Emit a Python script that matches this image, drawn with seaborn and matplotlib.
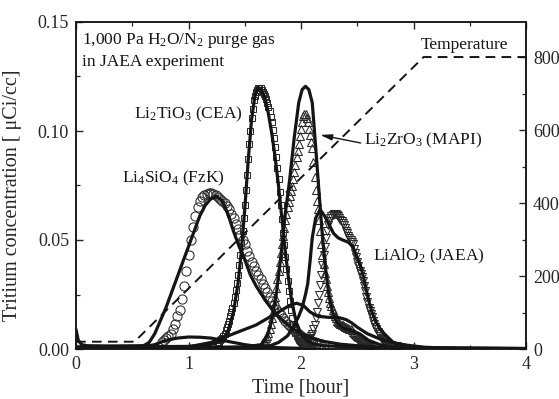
import numpy as np
import pandas as pd
import matplotlib
matplotlib.use("Agg")
import matplotlib.pyplot as plt
import seaborn as sns
from matplotlib.ticker import MultipleLocator

# ---------------- data ----------------
# measured points: first time (hour), sampling step (hour), concentration (uCi/cc)
sio_start, sio_step = 0.76, 0.02          # Li4SiO4 (FzK), circles
sio_vals = [0.0032, 0.004, 0.005, 0.0058, 0.007, 0.009, 0.0115, 0.015, 0.018, 0.023,
            0.029, 0.036, 0.043, 0.050, 0.056, 0.061, 0.065, 0.068, 0.0695, 0.0705,
            0.0712, 0.0715, 0.0715, 0.0712, 0.0705, 0.0695, 0.069, 0.068, 0.067, 0.0655,
            0.064, 0.062, 0.060, 0.0575, 0.055, 0.0525, 0.050, 0.048, 0.045, 0.0425,
            0.040, 0.038, 0.036, 0.034, 0.032, 0.030, 0.028, 0.026, 0.024, 0.022,
            0.020, 0.0185, 0.017, 0.0155, 0.014, 0.0128, 0.0115, 0.0105, 0.0095, 0.0085,
            0.0075, 0.0067, 0.006, 0.0054, 0.0048, 0.0043, 0.0038, 0.0034, 0.003, 0.0027,
            0.0024, 0.0021, 0.0018]

tio_start, tio_step = 1.25, 0.01          # Li2TiO3 (CEA), squares
tio_vals = [0.0025, 0.003, 0.0033, 0.004, 0.0045, 0.005, 0.006, 0.007, 0.0085, 0.010,
            0.0115, 0.013, 0.015, 0.017, 0.019, 0.021, 0.024, 0.027, 0.0305, 0.034,
            0.0385, 0.043, 0.0485, 0.054, 0.060, 0.066, 0.073, 0.080, 0.087, 0.094,
            0.100, 0.106, 0.110, 0.114, 0.116, 0.118, 0.119, 0.1195, 0.1198, 0.1195,
            0.119, 0.118, 0.117, 0.116, 0.1145, 0.113, 0.111, 0.109, 0.1065, 0.104,
            0.1005, 0.097, 0.0925, 0.088, 0.083, 0.078, 0.072, 0.066, 0.0595, 0.053,
            0.0475, 0.042, 0.0365, 0.031, 0.0265, 0.022, 0.018, 0.014, 0.0115, 0.009,
            0.0075, 0.006, 0.005, 0.004, 0.0035, 0.003, 0.0025, 0.002, 0.0018, 0.0015,
            0.0012, 0.001, 0.0009, 0.0008, 0.0007, 0.0006]

zro_start, zro_step = 1.65, 0.01          # Li2ZrO3 (MAPI), up triangles
zro_vals = [0.0025, 0.003, 0.0035, 0.004, 0.005, 0.006, 0.0075, 0.009, 0.0115, 0.014,
            0.017, 0.020, 0.024, 0.028, 0.032, 0.036, 0.040, 0.044, 0.048, 0.052,
            0.0555, 0.059, 0.062, 0.065, 0.0675, 0.070, 0.0725, 0.075, 0.078, 0.081,
            0.0845, 0.088, 0.091, 0.094, 0.0975, 0.101, 0.104, 0.107, 0.108, 0.108,
            0.106, 0.104, 0.101, 0.098, 0.095, 0.092, 0.086, 0.079, 0.073, 0.068,
            0.064, 0.059, 0.054, 0.048, 0.043, 0.039, 0.035, 0.032, 0.029, 0.026,
            0.0235, 0.021, 0.0195, 0.018, 0.0165, 0.015, 0.014, 0.013, 0.0125, 0.012,
            0.0115, 0.011, 0.0108, 0.0105, 0.0102, 0.010, 0.0098, 0.0095, 0.0092, 0.009,
            0.0085, 0.008, 0.0075, 0.007, 0.0065, 0.006, 0.0055, 0.005, 0.0045, 0.004,
            0.0038, 0.0035, 0.0032, 0.003, 0.0028, 0.0025, 0.0022, 0.002, 0.0018, 0.0015]

alo_start, alo_step = 2.00, 0.01          # LiAlO2 (JAEA), down triangles
alo_vals = [0.0025, 0.0027, 0.003, 0.0032, 0.0035, 0.0038, 0.004, 0.0045, 0.005, 0.006,
            0.007, 0.009, 0.011, 0.014, 0.017, 0.021, 0.025, 0.0295, 0.034, 0.0385,
            0.043, 0.047, 0.051, 0.054, 0.057, 0.0585, 0.060, 0.061, 0.0615, 0.062,
            0.062, 0.062, 0.0615, 0.061, 0.060, 0.059, 0.0585, 0.058, 0.057, 0.0555,
            0.054, 0.053, 0.052, 0.051, 0.050, 0.049, 0.048, 0.046, 0.044, 0.042,
            0.040, 0.038, 0.036, 0.0345, 0.033, 0.031, 0.029, 0.0265, 0.024, 0.0215,
            0.019, 0.0175, 0.016, 0.0145, 0.013, 0.0115, 0.010, 0.009, 0.008, 0.007,
            0.006, 0.0052, 0.0045, 0.004, 0.0035, 0.0032, 0.0028, 0.0024, 0.002, 0.0019,
            0.0018, 0.0016, 0.0015, 0.0014, 0.0013, 0.0012, 0.001, 0.001, 0.0009, 0.0008]

# fitted curves (time in hour, concentration in uCi/cc)
fit_sio_t = [0, 0.02, 0.05, 0.1, 0.3, 0.6, 0.65, 0.7, 0.75, 0.8, 0.85, 0.9, 0.95, 1.0, 1.05,
             1.1, 1.15, 1.2, 1.25, 1.3, 1.35, 1.4, 1.45, 1.5, 1.55, 1.6, 1.68, 1.76, 1.84,
             1.92, 2.0, 2.1, 2.2, 2.35, 2.5, 2.7, 3.0, 3.5, 4.0]
fit_sio_c = [0.009, 0.004, 0.002, 0.0015, 0.0014, 0.0015, 0.003, 0.007, 0.013, 0.019, 0.026,
             0.033, 0.040, 0.047, 0.054, 0.061, 0.066, 0.069, 0.070, 0.068, 0.062, 0.054,
             0.047, 0.041, 0.034, 0.029, 0.0225, 0.017, 0.013, 0.0095, 0.007, 0.005,
             0.0035, 0.0022, 0.0015, 0.0009, 0.0005, 0.0003, 0.0002]

fit_tio_t = [0, 0.5, 1.0, 1.2, 1.3, 1.35, 1.4, 1.44, 1.47, 1.50, 1.53, 1.56, 1.59, 1.62, 1.65,
             1.68, 1.71, 1.74, 1.77, 1.80, 1.83, 1.86, 1.89, 1.92, 1.96, 2.0, 2.05, 2.1,
             2.2, 2.5, 3.0, 4.0]
fit_tio_c = [0.001, 0.001, 0.0012, 0.002, 0.004, 0.008, 0.017, 0.030, 0.045, 0.064, 0.086,
             0.105, 0.116, 0.120, 0.119, 0.115, 0.108, 0.099, 0.088, 0.075, 0.060, 0.045,
             0.032, 0.021, 0.012, 0.007, 0.004, 0.0025, 0.0015, 0.0008, 0.0004, 0.0002]

fit_broad_t = [0.9, 1.0, 1.1, 1.2, 1.3, 1.4, 1.5, 1.6, 1.7, 1.8, 1.9, 1.96, 2.02, 2.08, 2.15,
               2.25, 2.33, 2.40, 2.45, 2.50, 2.59, 2.73, 2.9, 3.1, 3.4]
fit_broad_c = [0.0, 0.001, 0.002, 0.003, 0.005, 0.007, 0.009, 0.011, 0.014, 0.017, 0.020,
               0.021, 0.020, 0.017, 0.015, 0.0145, 0.0145, 0.0135, 0.012, 0.010, 0.007,
               0.004, 0.002, 0.0008, 0.0002]

fit_zro_t = [0, 1.0, 1.5, 1.65, 1.70, 1.74, 1.78, 1.82, 1.86, 1.90, 1.94, 1.98, 2.01, 2.04,
             2.07, 2.10, 2.13, 2.16, 2.19, 2.22, 2.25, 2.28, 2.32, 2.38, 2.45, 2.52, 2.6,
             2.7, 2.8, 3.0, 4.0]
fit_zro_c = [0.0005, 0.0006, 0.001, 0.002, 0.006, 0.013, 0.025, 0.042, 0.062, 0.078, 0.097,
             0.113, 0.119, 0.1205, 0.119, 0.113, 0.093, 0.072, 0.052, 0.036, 0.024, 0.017,
             0.012, 0.0095, 0.0085, 0.007, 0.004, 0.002, 0.001, 0.0005, 0.0002]

fit_alo_t = [0, 1.5, 1.7, 1.8, 1.88, 1.94, 1.98, 2.01, 2.04, 2.06, 2.08, 2.10, 2.13, 2.17,
             2.21, 2.25, 2.29, 2.33, 2.37, 2.42, 2.46, 2.50, 2.53, 2.56, 2.60, 2.63, 2.66,
             2.70, 2.74, 2.82, 2.9, 3.0, 3.2, 4.0]
fit_alo_c = [0.0003, 0.0005, 0.001, 0.003, 0.006, 0.011, 0.015, 0.019, 0.025, 0.030, 0.040,
             0.051, 0.060, 0.064, 0.061, 0.057, 0.053, 0.051, 0.050, 0.049, 0.047, 0.042,
             0.038, 0.032, 0.0225, 0.017, 0.013, 0.0095, 0.007, 0.003, 0.0015, 0.0008,
             0.0004, 0.0002]

fit_hump_t = [0.55, 0.65, 0.70, 0.75, 0.8, 0.9, 1.0, 1.1, 1.2, 1.3, 1.4, 1.5, 1.6, 1.8, 2.0]
fit_hump_c = [0.0012, 0.0015, 0.002, 0.003, 0.004, 0.005, 0.0055, 0.0054, 0.005, 0.004,
              0.003, 0.002, 0.0013, 0.0006, 0.0003]

# temperature program (deg C)
temp_t = [0.0, 0.52, 3.09, 4.0]
temp_T = [20, 20, 800, 800]

x_ticks = [0, 1, 2, 3, 4]
y_ticks = [0.00, 0.05, 0.10, 0.15]
y_ticklabels = ["0.00", "0.05", "0.10", "0.15"]
r_ticks = [0, 200, 400, 600, 800]

# ---------------- style ----------------
sns.set_style("ticks")
plt.rcParams["font.family"] = ["Liberation Serif", "DejaVu Serif"]
plt.rcParams["mathtext.fontset"] = "custom"
plt.rcParams["mathtext.rm"] = "Liberation Serif"
plt.rcParams["mathtext.it"] = "Liberation Serif:italic"
plt.rcParams["axes.linewidth"] = 1.1

fig = plt.figure(figsize=(5.59, 3.99), dpi=100)
ax = fig.add_axes([76 / 559, 1 - 349 / 399, 450 / 559, 327 / 399])
ax2 = ax.twinx()

ink = "#151515"

def grid(start, step, vals):
    return start + step * np.arange(len(vals))

marker_sets = [
    (grid(sio_start, sio_step, sio_vals), sio_vals, "o", 6.6),
    (grid(tio_start, tio_step, tio_vals), tio_vals, "s", 4.6),
    (grid(zro_start, zro_step, zro_vals), zro_vals, "^", 6.2),
    (grid(alo_start, alo_step, alo_vals), alo_vals, "v", 6.2),
]
for tt, vv, mk, ms in marker_sets:
    df = pd.DataFrame({"t": tt, "c": vv})
    sns.lineplot(data=df, x="t", y="c", ax=ax, marker=mk, linestyle="", ms=ms,
                 mfc="none", mec="#2a2a2a", mew=0.75, errorbar=None, estimator=None)

for tt, cc in [(fit_hump_t, fit_hump_c), (fit_broad_t, fit_broad_c),
               (fit_sio_t, fit_sio_c), (fit_tio_t, fit_tio_c),
               (fit_zro_t, fit_zro_c), (fit_alo_t, fit_alo_c)]:
    df = pd.DataFrame({"t": tt, "c": cc})
    sns.lineplot(data=df, x="t", y="c", ax=ax, color=ink, lw=2.3, errorbar=None,
                 estimator=None, sort=False)

dft = pd.DataFrame({"t": temp_t, "T": temp_T})
sns.lineplot(data=dft, x="t", y="T", ax=ax2, color=ink, lw=1.4,
             linestyle=(0, (5, 3.2)), errorbar=None, estimator=None, sort=False)

# axes limits & ticks
ax.set_xlim(0, 4)
ax.set_ylim(0, 0.15)
ax2.set_ylim(0, 896)
ax.set_xticks(x_ticks)
ax.set_xticklabels([str(v) for v in x_ticks])
ax.xaxis.set_minor_locator(MultipleLocator(0.5))
ax.set_yticks(y_ticks)
ax.set_yticklabels(y_ticklabels)
ax.yaxis.set_minor_locator(MultipleLocator(0.025))
ax2.set_yticks(r_ticks)
ax2.yaxis.set_minor_locator(MultipleLocator(100))

ax.tick_params(axis="both", which="major", direction="in", length=5, width=1.0,
               labelsize=13, top=True, pad=5)
ax.tick_params(axis="both", which="minor", direction="in", length=3, width=0.9, top=True)
ax.tick_params(axis="x", which="both", top=True, labeltop=False)
ax2.tick_params(axis="y", which="major", direction="in", length=5, width=1.0,
                labelsize=13, pad=5)
ax2.tick_params(axis="y", which="minor", direction="in", length=3, width=0.9)

ax.set_xlabel("Time [hour]", fontsize=14.5, labelpad=4)
ax.set_ylabel("Tritium concentration [ \u03bcCi/cc]", fontsize=14.5)
ax.yaxis.set_label_coords(-0.12, 0.47)
ax2.set_ylabel("")
for a in (ax, ax2):
    for s in a.spines.values():
        s.set_linewidth(1.1)
        s.set_color(ink)

# annotations
fs = 12.5
ax.text(0.053, 0.1417, "1,000 Pa H$_2$O/N$_2$ purge gas", fontsize=fs, ha="left", va="center", color=ink)
ax.text(0.053, 0.1315, "in JAEA experiment", fontsize=fs, ha="left", va="center", color=ink)
ax.text(3.063, 0.1394, "Temperature", fontsize=fs, ha="left", va="center", color=ink)
ax.text(1.478, 0.1075, "Li$_2$TiO$_3$ (CEA)", fontsize=fs, ha="right", va="center", color=ink)
ax.text(0.405, 0.0784, "Li$_4$SiO$_4$ (FzK)", fontsize=fs, ha="left", va="center", color=ink)
ax.text(2.556, 0.0955, "Li$_2$ZrO$_3$ (MAPI)", fontsize=fs, ha="left", va="center", color=ink)
ax.text(2.636, 0.0425, "LiAlO$_2$ (JAEA)", fontsize=fs, ha="left", va="center", color=ink)
ax.annotate("", xy=(2.17, 0.0982), xytext=(2.53, 0.0945),
            arrowprops=dict(arrowstyle="-|>,head_length=0.7,head_width=0.18",
                            color=ink, lw=1.0, shrinkA=0, shrinkB=0))

fig.savefig("out.png", dpi=100)
